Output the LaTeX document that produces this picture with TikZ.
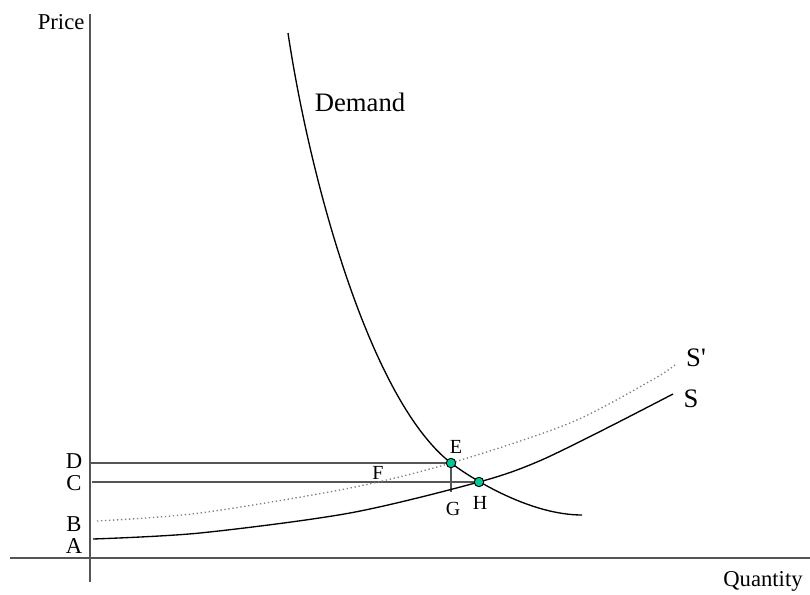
\documentclass[tikz,border=0pt]{standalone}
\usepackage{fontspec}
\setmainfont{Liberation Serif}[Ligatures=TeXOff]
\usetikzlibrary{positioning}
\definecolor{axisgray}{HTML}{555555}
\definecolor{dotgreen}{HTML}{00C896}
\tikzset{
  axis/.style={draw=axisgray, line width=1.3pt},
  level/.style={draw=axisgray, line width=1pt},
  curve/.style={draw=black, line width=1pt},
  shifted/.style={draw=gray, line width=1pt, dotted},
  point/.style={circle, draw=black, fill=dotgreen, line width=.6pt, inner sep=0pt, minimum size=7pt},
  biglabel/.style={font=\fontsize{20}{24}\selectfont},
  axlabel/.style={font=\fontsize{17}{20}\selectfont, inner sep=1pt},
  ticklabel/.style={axlabel, inner sep=0pt},
  ptlabel/.style={font=\fontsize{15}{18}\selectfont, inner sep=1pt}
}

\begin{document}
\begin{tikzpicture}[x=0.75pt,y=-0.75pt]
  \useasboundingbox (0,0) rectangle (810,595);

  % axes
  \coordinate (ytop) at (90,14);
  \coordinate (ybot) at (90,582);
  \coordinate (xleft) at (10,558);
  \coordinate (xright) at (810,558);
  \draw[axis] (ytop) -- (ybot);
  \draw[axis] (xleft) -- (xright);
  \node[axlabel, anchor=east] (price) at (86,22) {Price};
  \node[axlabel] (quantity) at (763,581) {Quantity};

  % equilibrium points
  \node[point] (E) at (451,463) {};
  \node[point] (H) at (479,482) {};
  \coordinate (Dpt) at (90,463);
  \coordinate (Cpt) at (92,482);
  \coordinate (Gpt) at (451,492);
  \coordinate (dtop) at (288,33);
  \coordinate (dend) at (582,515);

  % price levels
  \draw[level] (Dpt) -- (E.center);
  \draw[level] (Cpt) -- (H.center);
  \draw[level] (E.center) -- (Gpt);

  % demand
  \draw[curve] (dtop) .. controls (310,180) and (370,400) .. (E.center)
    .. controls (472,479) and (530,515) .. (dend);
  % supply S and S'
  \draw[curve] plot[smooth, tension=.5] coordinates {(93,539) (200,533) (350,513)
    (479,482) (537,462) (603,430) (673,394)};
  \draw[shifted] plot[smooth, tension=.5] coordinates {(97,521) (200,513) (350,488)
    (451,463) (570,423) (652,380) (675,365)};
  \node[point] at (E) {};
  \node[point] at (H) {};

  % labels
  \node[biglabel] (demand) at (360,102) {Demand};
  \node[biglabel] (sprime) at (696,358) {S'};
  \node[biglabel] (s) at (691,399) {S};
  \node[ticklabel] (D) at (74,461) {D};
  \node[ticklabel] (C) at (74,483) {C};
  \node[ticklabel] (B) at (74,524) {B};
  \node[ticklabel] (A) at (74,546) {A};
  \node[ptlabel] (Elab) at (456,447) {E};
  \node[ptlabel] (F) at (378,473) {F};
  \node[ptlabel] (G) at (453,509) {G};
  \node[ptlabel] (Hlab) at (480,503) {H};
\end{tikzpicture}
\end{document}
